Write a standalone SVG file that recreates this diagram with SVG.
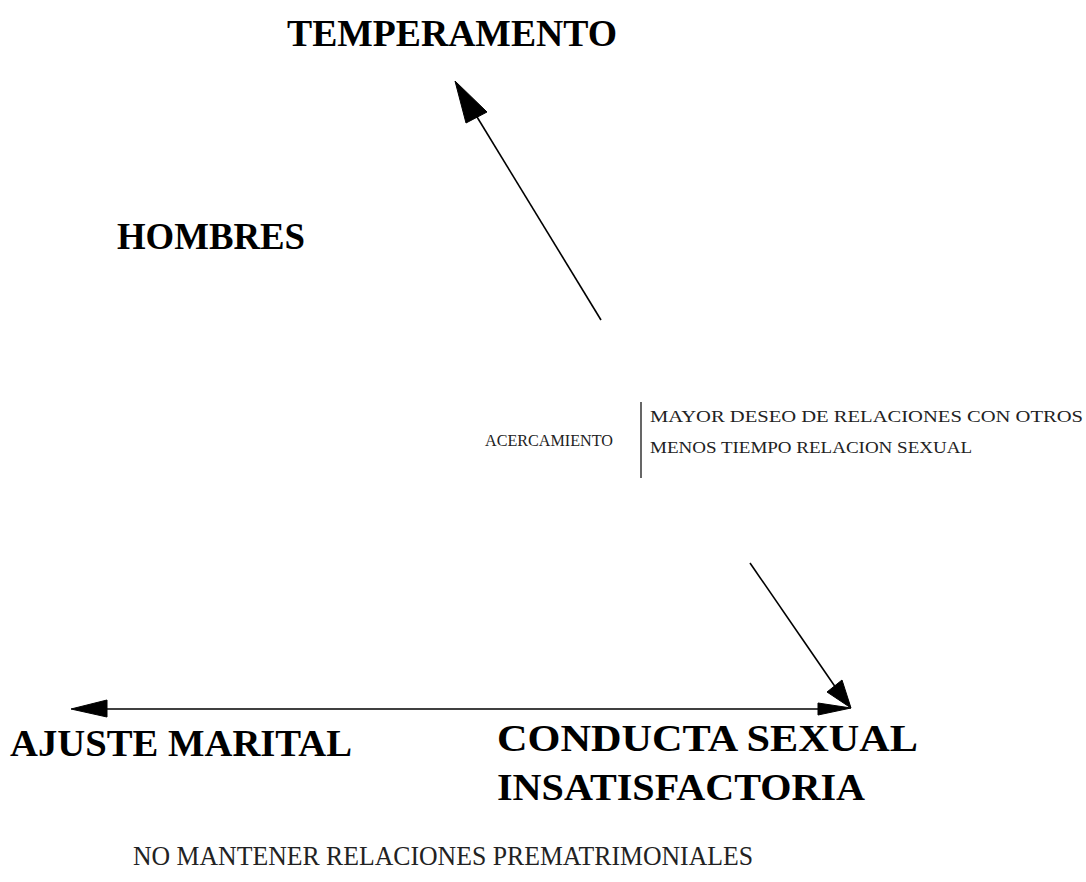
<svg xmlns="http://www.w3.org/2000/svg" width="1086" height="882" viewBox="0 0 1086 882">
<style>
.title{font-family:"Liberation Serif","Times New Roman",serif;font-weight:bold;font-size:37px;fill:#000}
.small{font-family:"Liberation Serif","Times New Roman",serif;font-size:16px;fill:#222}
.foot{font-family:"Liberation Serif","Times New Roman",serif;font-size:27px;fill:#222}
.ln{stroke:#000;stroke-width:1.6;fill:none}
.head{fill:#000;stroke:#000;stroke-width:1;stroke-linejoin:round}
</style>
<rect width="1086" height="882" fill="#fff"/>
<g id="temperamento"><text class="title" x="287" y="46" textLength="330" lengthAdjust="spacingAndGlyphs">TEMPERAMENTO</text></g>
<g id="hombres"><text class="title" x="117" y="249" textLength="188" lengthAdjust="spacingAndGlyphs">HOMBRES</text></g>
<g id="acercamiento">
<text class="small" x="485" y="446" textLength="128" lengthAdjust="spacingAndGlyphs">ACERCAMIENTO</text>
<line x1="641" y1="402" x2="641" y2="478" stroke="#000" stroke-width="1.2"/>
<text class="small" x="650" y="422" textLength="433" lengthAdjust="spacingAndGlyphs">MAYOR DESEO DE RELACIONES CON OTROS</text>
<text class="small" x="650" y="453" textLength="322" lengthAdjust="spacingAndGlyphs">MENOS TIEMPO RELACION SEXUAL</text>
</g>
<g id="ajuste"><text class="title" x="10" y="756" textLength="342" lengthAdjust="spacingAndGlyphs">AJUSTE MARITAL</text></g>
<g id="conducta">
<text class="title" x="497" y="751" textLength="421" lengthAdjust="spacingAndGlyphs">CONDUCTA SEXUAL</text>
<text class="title" x="497" y="800" textLength="368" lengthAdjust="spacingAndGlyphs">INSATISFACTORIA</text>
</g>
<g id="premat"><text class="foot" x="133" y="865" textLength="620" lengthAdjust="spacingAndGlyphs">NO MANTENER RELACIONES PREMATRIMONIALES</text></g>
<g id="connectors">
<line class="ln" x1="601" y1="320" x2="474" y2="112"/>
<polygon class="head" points="455,81 487,112 466,123"/>
<line class="ln" x1="750" y1="563" x2="836" y2="688"/>
<polygon class="head" points="851,708 827,692 842,680"/>
<line class="ln" x1="100" y1="709" x2="825" y2="709"/>
<polygon class="head" points="71,709 107,700 107,717"/>
<polygon class="head" points="851,708 818,703 818,715"/>
</g>
</svg>
